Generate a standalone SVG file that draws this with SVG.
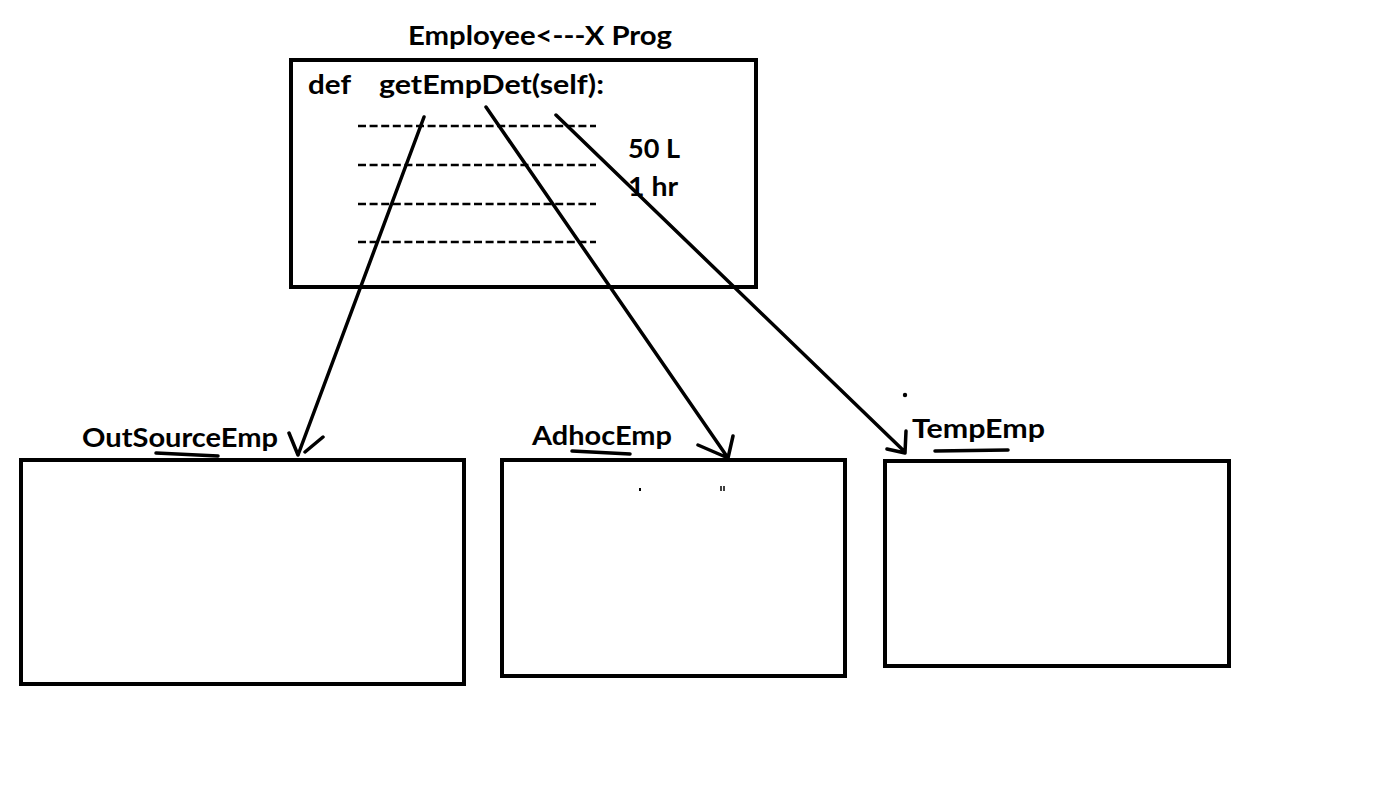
<svg xmlns="http://www.w3.org/2000/svg" width="1398" height="800" viewBox="0 0 1398 800">
<style>
.t{font-family:Lato,"Open Sans","Liberation Sans",sans-serif;font-weight:bold;font-size:26px;fill:#000}
.box{fill:#fff;stroke:#000;stroke-width:4}
.dash{stroke:#000;stroke-width:2.5;stroke-dasharray:8 3.6}
.ln{stroke:#000;stroke-width:3.5;stroke-linecap:round;fill:none}
.ul{stroke:#000;stroke-width:3.5;stroke-linecap:round}
</style>
<rect width="1398" height="800" fill="#fff"/>
<g id="employee">
<text class="t" x="408" y="45" textLength="264" lengthAdjust="spacingAndGlyphs">Employee&lt;---X Prog</text>
<rect class="box" x="291" y="60" width="465" height="227"/>
<text class="t" x="308" y="94" textLength="43" lengthAdjust="spacingAndGlyphs">def</text>
<text class="t" x="379" y="94" textLength="225" lengthAdjust="spacingAndGlyphs">getEmpDet(self):</text>
<line class="dash" x1="358" y1="126" x2="596" y2="126"/>
<line class="dash" x1="358" y1="165" x2="596" y2="165"/>
<line class="dash" x1="358" y1="204" x2="596" y2="204"/>
<line class="dash" x1="358" y1="242" x2="596" y2="242"/>
<text class="t" x="628" y="158" textLength="52" lengthAdjust="spacingAndGlyphs">50 L</text>
<text class="t" x="628" y="196" textLength="50" lengthAdjust="spacingAndGlyphs">1 hr</text>
</g>
<g id="outsource">
<rect class="box" x="21" y="460" width="443" height="224"/>
<text class="t" x="82" y="447" textLength="196" lengthAdjust="spacingAndGlyphs">OutSourceEmp</text>
<line class="ul" x1="156" y1="453" x2="218" y2="456"/>
</g>
<g id="adhoc">
<rect class="box" x="502" y="460" width="343" height="216"/>
<text class="t" x="532" y="445" textLength="140" lengthAdjust="spacingAndGlyphs">AdhocEmp</text>
<line class="ul" x1="572" y1="451" x2="630" y2="454"/>
<line stroke="#000" stroke-width="2" x1="640" y1="488" x2="640" y2="491"/>
<line stroke="#000" stroke-width="1.5" x1="721" y1="486" x2="721" y2="491"/>
<line stroke="#000" stroke-width="1.5" x1="724" y1="486" x2="724" y2="491"/>
</g>
<g id="temp">
<rect class="box" x="885" y="461" width="344" height="205"/>
<text class="t" x="912" y="438" textLength="133" lengthAdjust="spacingAndGlyphs">TempEmp</text>
<line class="ul" x1="935" y1="451" x2="1008" y2="450"/>
<circle cx="905" cy="395" r="2.2" fill="#000"/>
</g>
<g id="connectors">
<path class="ln" d="M424,117 L298,455 M289,433 L298,455 M323,437 L305,452"/>
<path class="ln" d="M486,107 L728,458 M698,445 L728,458 M733,436 L728,458"/>
<path class="ln" d="M556,115 L905,452 M887,449 L905,453 M906,431 L905,453"/>
</g>
</svg>
